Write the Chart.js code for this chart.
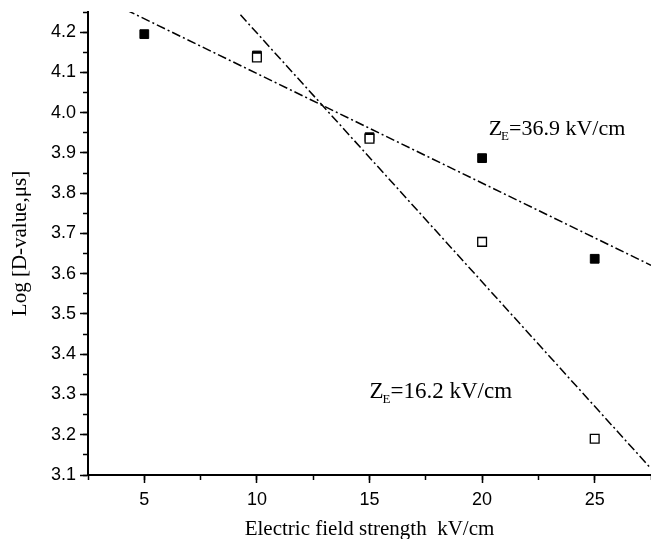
<!DOCTYPE html>
<html>
<head>
<meta charset="utf-8">
<script src="https://cdn.jsdelivr.net/npm/chart.js@4.4.1/dist/chart.umd.min.js"></script>
<style>
  html, body { margin: 0; padding: 0; background: #fff; }
  #wrap { width: 651px; height: 539px; }
</style>
</head>
<body>
<div id="wrap"><canvas id="chart"></canvas></div>
<script>
// Measured inactivation data: log D-value vs. electric field strength
const fieldFilled = [5, 10, 15, 20, 25];
const logDFilled  = [4.195, 4.142, 3.939, 3.887, 3.637];
const fieldOpen   = [10, 15, 20, 25];
const logDOpen    = [4.137, 3.935, 3.679, 3.190];

// End points of the two fitted lines
const fitShallowX = [4.2, 27.5];
const fitShallowY = [4.255, 3.621];
const fitSteepX   = [9.27, 27.5];
const fitSteepY   = [4.243, 3.116];

// Axis ticks
const xTicks = [5, 10, 15, 20, 25];
const yTicks = [3.1, 3.2, 3.3, 3.4, 3.5, 3.6, 3.7, 3.8, 3.9, 4.0, 4.1, 4.2];

// Z-value annotations
const zValues = ['36.9', '16.2'];
const zAtX    = [20.29, 15.0];
const zAtY    = [3.945, 3.291];
const zSizes  = [22, 23];

const toPoints = (xs, ys) => xs.map((x, i) => ({ x, y: ys[i] }));

const SERIF = '"Liberation Serif", "Times New Roman", serif';
const SANS  = '"Liberation Sans", Arial, sans-serif';

const zLabelPlugin = {
  id: 'zLabels',
  afterDatasetsDraw(chart) {
    const { ctx, scales } = chart;
    ctx.save();
    ctx.fillStyle = '#000';
    ctx.textBaseline = 'alphabetic';
    ctx.textAlign = 'left';
    zValues.forEach((v, i) => {
      const size = zSizes[i];
      let px = scales.x.getPixelForValue(zAtX[i]);
      const py = scales.y.getPixelForValue(zAtY[i]);
      ctx.font = `${size}px ${SERIF}`;
      ctx.fillText('Z', px, py);
      px += ctx.measureText('Z').width - 1;
      ctx.font = `${Math.round(size * 0.58)}px ${SERIF}`;
      ctx.fillText('E', px, py + 5);
      px += ctx.measureText('E').width;
      ctx.font = `${size}px ${SERIF}`;
      ctx.fillText('=' + v + ' kV/cm', px, py);
    });
    ctx.restore();
  }
};

const lineStyle = {
  showLine: true,
  pointRadius: 0,
  borderColor: '#000',
  borderWidth: 1.5,
  borderDash: [9, 3, 2, 3],
  fill: false
};

// Keep scale boxes at fixed sizes and drop label-overhang padding
const fixBox = (w, h) => s => {
  if (w !== null) s.width = w;
  if (h !== null) s.height = h;
  s.paddingLeft = 0; s.paddingRight = 0; s.paddingTop = 0; s.paddingBottom = 0;
};

new Chart(document.getElementById('chart'), {
  type: 'scatter',
  data: {
    datasets: [
      {
        label: 'open',
        data: toPoints(fieldOpen, logDOpen),
        pointStyle: 'rect',
        pointRadius: 6.2,
        backgroundColor: '#fff',
        borderColor: '#000',
        borderWidth: 1.3,
        order: 0
      },
      {
        label: 'filled',
        data: toPoints(fieldFilled, logDFilled),
        pointStyle: 'rect',
        pointRadius: 6.2,
        backgroundColor: '#000',
        borderColor: '#000',
        borderWidth: 1,
        order: 1
      },
      Object.assign({ label: 'fit1', data: toPoints(fitShallowX, fitShallowY), order: 2 }, lineStyle),
      Object.assign({ label: 'fit2', data: toPoints(fitSteepX, fitSteepY), order: 3 }, lineStyle)
    ]
  },
  options: {
    responsive: true,
    maintainAspectRatio: false,
    animation: false,
    devicePixelRatio: 1,
    layout: { autoPadding: false, padding: { top: 12, right: 0, bottom: 0, left: 0 } },
    plugins: { legend: { display: false }, tooltip: { enabled: false } },
    scales: {
      x: {
        type: 'linear', position: 'bottom', weight: 1,
        min: 2.5, max: 27.5,
        afterBuildTicks: s => { s.ticks = xTicks.map(v => ({ value: v })); },
        afterFit: fixBox(null, 64),
        grid: { drawOnChartArea: false, drawTicks: true, tickLength: 8, tickWidth: 1.5, tickColor: '#000' },
        border: { display: true, color: '#000', width: 2 },
        ticks: { color: '#000', font: { family: SANS, size: 18 }, padding: 6, maxRotation: 0, autoSkip: false,
                 callback: v => String(v) },
        title: { display: true, text: 'Electric field strength  kV/cm', color: '#000',
                 font: { family: SERIF, size: 21, lineHeight: 0.9 }, padding: { top: 0, bottom: 0 } }
      },
      xMinor: {
        type: 'linear', axis: 'x', position: 'bottom', weight: 0,
        min: 2.5, max: 27.5,
        afterFit: fixBox(null, 0),
        grid: { drawOnChartArea: false, drawTicks: true, tickLength: 5, tickWidth: 1.5, tickColor: '#000' },
        border: { display: false },
        ticks: { display: false, stepSize: 2.5, autoSkip: false }
      },
      y: {
        type: 'linear', position: 'left', weight: 1,
        min: 3.1, max: 4.25,
        afterBuildTicks: s => { s.ticks = yTicks.map(v => ({ value: v })); },
        afterFit: fixBox(88, null),
        grid: { drawOnChartArea: false, drawTicks: true, tickLength: 8, tickWidth: 1.5, tickColor: '#000' },
        border: { display: true, color: '#000', width: 2 },
        ticks: { color: '#000', font: { family: SANS, size: 18 }, padding: 4, autoSkip: false,
                 callback: v => Number(v).toFixed(1) },
        title: { display: true, text: 'Log [D-value,μs]', color: '#000',
                 font: { family: SERIF, size: 21, lineHeight: 0.9 }, padding: { top: 11, bottom: 0 } }
      },
      yMinor: {
        type: 'linear', axis: 'y', position: 'left', weight: 0,
        min: 3.1, max: 4.25,
        afterFit: fixBox(0, null),
        grid: { drawOnChartArea: false, drawTicks: true, tickLength: 5, tickWidth: 1.5, tickColor: '#000' },
        border: { display: false },
        ticks: { display: false, stepSize: 0.05, autoSkip: false }
      }
    }
  },
  plugins: [zLabelPlugin]
});
</script>
</body>
</html>
